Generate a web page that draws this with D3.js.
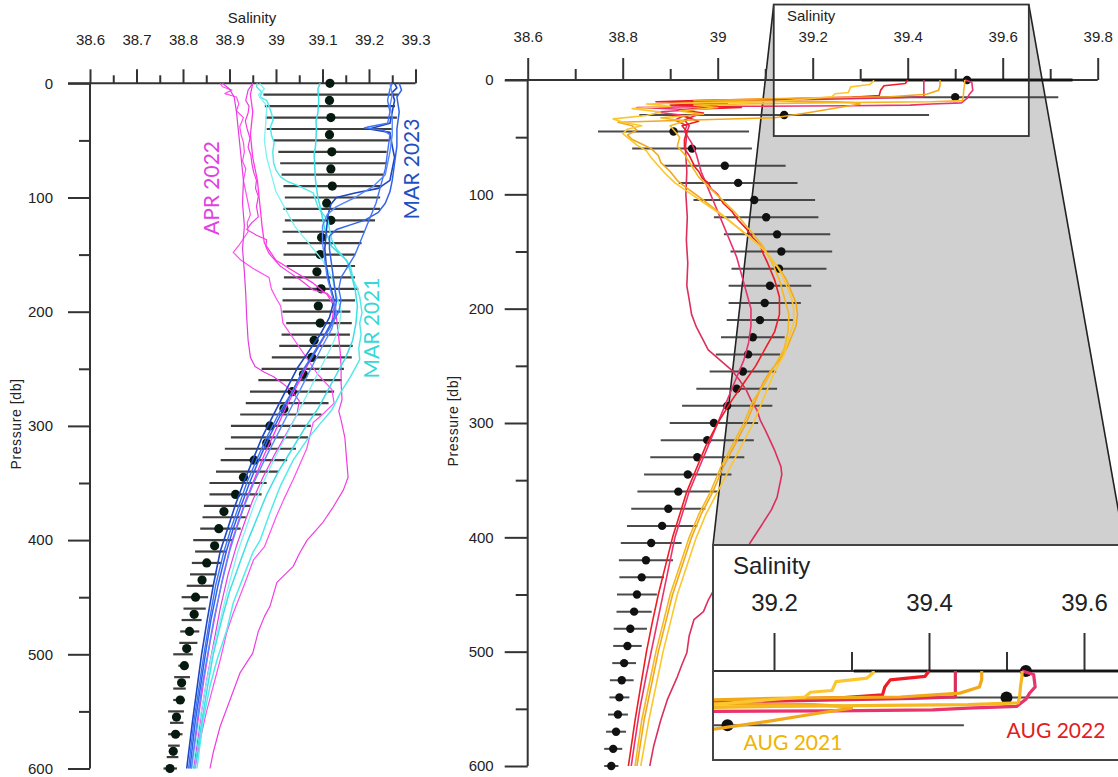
<!DOCTYPE html>
<html><head><meta charset="utf-8">
<script src="https://cdn.jsdelivr.net/npm/d3@7"></script>
<style>body{margin:0;background:#fff}svg{display:block}</style>
</head><body>
<svg id="c" width="1118" height="777"></svg>
<script>
// ---------- LEFT PANEL DATA ----------
const leftXTicks = [38.6, 38.7, 38.8, 38.9, 39, 39.1, 39.2, 39.3];
const leftXMinor = [38.65, 38.75, 38.85, 38.95, 39.05, 39.15, 39.25];
const yTicks = [0, 100, 200, 300, 400, 500, 600];
const yMinor = [50, 150, 250, 350, 450, 550];

const leftDotDepth = [0,15,30,45,60,75,90,105,120,135,150,165,180,195,210,225,240,255,270,285,300,315,330,345,360,375,390,405,420,435,450,465,480,495,510,525,540,555,570,585,600];
const leftDotMean = [39.116,39.115,39.118,39.115,39.12,39.118,39.121,39.109,39.118,39.098,39.095,39.088,39.097,39.091,39.095,39.082,39.077,39.059,39.035,39.017,38.987,38.98,38.953,38.93,38.913,38.888,38.877,38.868,38.851,38.841,38.827,38.824,38.814,38.808,38.803,38.797,38.794,38.786,38.784,38.779,38.772];

const leftBarDepth = [10,20,30,40,50,60,70,80,90,100,110,120,130,140,150,160,170,180,190,200,210,220,230,240,250,260,270,280,290,300,310,320,330,340,350,360,370,380,390,400,410,420,430,440,450,460,470,480,490,500,510,520,530,540,550,560,570,580,590,600];
const leftBarLo = [38.973,38.976,38.978,38.98,38.994,39.005,39.009,39.012,39.016,39.019,39.016,39.019,39.014,39.024,39.016,39.023,39.017,39.014,39.014,39.014,39.022,39.012,39.007,38.991,38.969,38.962,38.944,38.935,38.923,38.903,38.903,38.89,38.881,38.871,38.857,38.857,38.845,38.842,38.837,38.822,38.826,38.819,38.815,38.808,38.797,38.801,38.797,38.794,38.792,38.779,38.79,38.781,38.779,38.779,38.768,38.772,38.768,38.768,38.765,38.758];
const leftBarHi = [39.263,39.256,39.26,39.249,39.245,39.238,39.238,39.231,39.227,39.224,39.224,39.213,39.191,39.184,39.17,39.17,39.17,39.177,39.17,39.16,39.163,39.159,39.165,39.163,39.146,39.141,39.125,39.113,39.098,39.075,39.069,39.043,39.024,39.005,38.98,38.969,38.946,38.935,38.924,38.906,38.894,38.883,38.872,38.865,38.854,38.849,38.84,38.835,38.831,38.821,38.807,38.815,38.806,38.804,38.802,38.801,38.799,38.793,38.79,38.787];

// MAR 2023 (blue)
const mar2023a = [[0,39.255],[4,39.26],[8,39.25],[15,39.255],[25,39.25],[35,39.245],[40,39.2],[43,39.245],[55,39.25],[65,39.255],[75,39.25],[85,39.245],[92,39.22],[96,39.17],[100,39.13],[106,39.118],[115,39.112],[130,39.108],[145,39.105],[160,39.108],[175,39.115],[190,39.125],[205,39.115],[220,39.095],[235,39.07],[250,39.045],[270,39.02],[290,38.995],[310,38.97],[330,38.95],[350,38.93],[370,38.912],[390,38.896],[410,38.88],[440,38.865],[470,38.852],[500,38.84],[530,38.83],[560,38.82],[600,38.808]];
const mar2023b = [[0,39.265],[6,39.27],[12,39.26],[25,39.265],[40,39.26],[55,39.26],[70,39.255],[85,39.25],[95,39.245],[105,39.235],[113,39.22],[120,39.19],[124,39.16],[128,39.13],[134,39.115],[145,39.115],[160,39.12],[175,39.125],[190,39.13],[205,39.125],[220,39.105],[235,39.085],[250,39.06],[270,39.035],[290,39.01],[310,38.985],[330,38.963],[350,38.943],[370,38.925],[390,38.908],[410,38.893],[440,38.875],[470,38.86],[500,38.848],[530,38.837],[560,38.826],[600,38.815]];
const mar2023c = [[0,39.25],[5,39.245],[15,39.24],[25,39.245],[35,39.24],[38,39.2],[39,39.19],[41,39.23],[45,39.245],[60,39.24],[75,39.235],[90,39.225],[105,39.215],[120,39.2],[135,39.185],[150,39.17],[160,39.155],[170,39.14],[180,39.135],[190,39.14],[200,39.135],[215,39.115],[230,39.09],[250,39.06],[270,39.035],[290,39.005],[310,38.98],[330,38.958],[350,38.937],[370,38.92],[390,38.903],[410,38.888],[440,38.87],[470,38.857],[500,38.845],[530,38.834],[560,38.823],[600,38.812]];
const mar2023d = [[0,39.245],[10,39.25],[20,39.245],[30,39.25],[45,39.25],[60,39.245],[70,39.24],[80,39.235],[90,39.21],[100,39.17],[108,39.13],[115,39.11],[125,39.1],[140,39.1],[155,39.105],[170,39.11],[185,39.12],[200,39.13],[215,39.12],[230,39.1],[250,39.075],[270,39.05],[290,39.025],[310,39.0],[330,38.975],[350,38.952],[370,38.932],[390,38.915],[410,38.9],[440,38.882],[470,38.866],[500,38.853],[530,38.84],[560,38.83],[600,38.818]];

// MAR 2021 (cyan)
const mar2021a = [[0,38.96],[3,38.958],[8,38.97],[12,38.965],[15,38.98],[20,38.985],[26,38.99],[32,38.994],[38,38.988],[45,38.99],[52,38.996],[60,38.993],[70,38.995],[76,39.0],[82,39.01],[86,39.025],[90,39.05],[96,39.08],[102,39.085],[108,39.09],[114,39.1],[120,39.112],[128,39.115],[137,39.12],[145,39.13],[152,39.145],[160,39.16],[172,39.166],[180,39.175],[187,39.18],[201,39.185],[210,39.18],[220,39.183],[232,39.178],[242,39.18],[257,39.16],[270,39.14],[286,39.12],[298,39.095],[312,39.067],[330,39.037],[353,39.009],[376,38.987],[400,38.966],[411,38.95],[432,38.93],[455,38.908],[479,38.894],[505,38.873],[528,38.858],[558,38.843],[600,38.83]];
const mar2021b = [[0,39.095],[5,39.09],[15,39.092],[26,39.09],[33,39.086],[40,39.087],[55,39.085],[62,39.082],[70,39.083],[85,39.085],[100,39.09],[108,39.095],[118,39.1],[128,39.105],[143,39.12],[155,39.152],[165,39.16],[180,39.17],[195,39.175],[210,39.172],[225,39.165],[240,39.15],[255,39.13],[270,39.11],[285,39.09],[300,39.065],[320,39.035],[340,39.005],[360,38.98],[380,38.96],[400,38.94],[420,38.922],[445,38.9],[470,38.883],[500,38.865],[530,38.852],[560,38.84],[600,38.825]];
const mar2021c = [[0,38.965],[5,38.975],[10,38.962],[20,38.98],[35,38.978],[50,38.975],[65,38.98],[80,38.99],[95,39.0],[110,39.02],[125,39.04],[140,39.07],[155,39.1],[170,39.12],[185,39.13],[200,39.14],[215,39.135],[230,39.12],[250,39.095],[270,39.07],[290,39.045],[310,39.02],[330,38.995],[350,38.972],[370,38.952],[390,38.935],[410,38.918],[440,38.898],[470,38.88],[500,38.862],[530,38.848],[560,38.835],[600,38.82]];

// APR 2022 (magenta)
const apr2022a = [[0,38.95],[6,38.94],[15,38.935],[20,38.942],[26,38.94],[33,38.934],[40,38.938],[48,38.944],[56,38.94],[63,38.946],[70,38.948],[78,38.952],[85,38.958],[92,38.956],[99,38.962],[108,38.958],[117,38.962],[122,38.948],[128,38.937],[133,38.958],[137,38.98],[143,38.978],[149,38.985],[155,38.998],[160,39.009],[166,39.03],[172,39.052],[181,39.08],[184,39.11],[190,39.123],[205,39.13],[219,39.134],[235,39.138],[248,39.14],[262,39.14],[277,39.142],[287,39.135],[295,39.14],[310,39.148],[330,39.152],[345,39.155],[356,39.145],[371,39.123],[385,39.1],[400,39.067],[412,39.05],[423,39.037],[437,39.002],[458,38.987],[467,38.975],[480,38.962],[499,38.95],[516,38.923],[540,38.901],[563,38.88],[586,38.865],[600,38.858]];
const apr2022b = [[0,38.88],[3,38.885],[6,38.905],[9,38.89],[12,38.915],[18,38.92],[24,38.915],[30,38.93],[38,38.922],[45,38.925],[52,38.93],[60,38.932],[68,38.928],[75,38.935],[85,38.93],[95,38.935],[105,38.94],[115,38.945],[122,38.938],[130,38.94],[142,38.92],[148,38.908],[155,38.925],[162,38.95],[170,38.985],[180,38.99],[188,39.0],[195,39.01],[210,39.015],[225,39.04],[240,39.065],[255,39.09],[268,39.12],[280,39.125],[290,39.1],[297,39.08],[320,39.066],[347,39.037],[365,39.016],[380,39.0],[406,38.975],[417,38.952],[441,38.93],[464,38.908],[481,38.894],[505,38.88],[528,38.865],[551,38.85],[575,38.837],[600,38.826]];
const apr2022c = [[0,38.885],[5,38.9],[12,38.91],[25,38.915],[45,38.92],[65,38.925],[85,38.93],[105,38.928],[125,38.932],[145,38.928],[165,38.932],[185,38.935],[205,38.937],[225,38.94],[240,38.945],[248,38.955],[253,38.975],[257,38.995],[263,39.015],[270,39.035],[278,39.05],[290,39.045],[305,39.025],[325,38.997],[345,38.972],[365,38.95],[385,38.932],[405,38.915],[430,38.897],[460,38.88],[490,38.866],[520,38.852],[550,38.84],[580,38.83],[600,38.823]];
const apr2022d = [[0,38.95],[10,38.945],[25,38.95],[45,38.945],[65,38.95],[85,38.96],[105,38.965],[125,38.97],[140,38.975],[155,39.0],[165,39.04],[175,39.08],[185,39.11],[195,39.125],[210,39.12],[225,39.1],[245,39.07],[265,39.045],[285,39.02],[305,38.998],[325,38.975],[345,38.955],[365,38.935],[385,38.918],[405,38.902],[430,38.887],[460,38.872],[490,38.858],[520,38.846],[550,38.835],[580,38.825],[600,38.818]];

// ---------- RIGHT PANEL DATA ----------
const rightXTicks = [38.6, 38.8, 39, 39.2, 39.4, 39.6, 39.8];
const rightXMinor = [38.7, 38.9, 39.1, 39.3, 39.5, 39.7];
const insetXTicks = [39.2, 39.4, 39.6];
const insetXMinor = [39.3, 39.5];

const rightDotDepth = [0,15,30.6,45,60,75,90,105,120,135,150,165,180,195,210,225,240,255,270,285,300,315,330,345,360,375,390,405,420,435,450,465,480,495,510,525,540,555,570,585,600];
const rightDotMean = [39.525,39.5,39.14,38.907,38.946,39.015,39.043,39.077,39.102,39.125,39.134,39.129,39.11,39.099,39.089,39.074,39.064,39.053,39.04,39.02,38.992,38.978,38.957,38.937,38.917,38.896,38.883,38.86,38.849,38.84,38.83,38.824,38.816,38.81,38.803,38.798,38.793,38.79,38.786,38.78,38.776];
const rightDotSD = [0.222,0.217,0.305,0.159,0.126,0.128,0.125,0.128,0.11,0.112,0.107,0.1,0.087,0.076,0.07,0.067,0.068,0.07,0.085,0.095,0.093,0.098,0.099,0.092,0.086,0.078,0.074,0.064,0.057,0.047,0.042,0.037,0.035,0.03,0.025,0.025,0.021,0.021,0.021,0.019,0.015];

// AUG 2022 (reds)
const aug2022a = [[0,39.4],[3,39.395],[5,39.35],[9,39.343],[13.5,39.34],[15,39.29],[16.5,39.15],[17.5,38.99],[19,38.87],[20.5,39.02],[22,38.9],[24,39.05],[26,38.92],[29,38.97],[32,38.93],[36,38.96],[40,38.925],[45,38.935],[52,38.93],[60,38.93],[66,38.94],[70,38.945],[76,38.952],[80,38.96],[86,38.968],[90,38.98],[95,38.986],[100,39.0],[108,39.012],[115,39.03],[122,39.042],[130,39.06],[138,39.074],[145,39.09],[152,39.096],[160,39.105],[175,39.12],[190,39.13],[205,39.13],[220,39.12],[235,39.1],[250,39.08],[265,39.055],[280,39.03],[300,39.0],[320,38.975],[340,38.955],[360,38.935],[380,38.92],[400,38.905],[425,38.89],[450,38.875],[475,38.862],[500,38.85],[530,38.838],[560,38.826],[600,38.812]];
const aug2022b = [[0,39.434],[8,39.434],[14.6,39.434],[15.5,39.38],[17,39.2],[18.5,38.98],[20,38.9],[23,39.0],[26,38.93],[30,38.96],[35,38.93],[40,38.94],[46,38.935],[60,38.932],[80,38.935],[100,38.933],[120,38.936],[140,38.934],[160,38.937],[180,38.935],[192,38.94],[205,38.945],[216,38.955],[228,38.97],[236,38.98],[245,39.005],[254,39.03],[262,39.045],[271,39.06],[280,39.07],[289,39.083],[298,39.09],[306,39.1],[315,39.11],[324,39.12],[338,39.133],[345,39.135],[353,39.131],[365,39.125],[376,39.113],[391,39.09],[405,39.068],[424,39.04],[440,39.0],[455,38.98],[465,38.97],[472,38.95],[486,38.94],[501,38.935],[511,38.925],[522,38.915],[542,38.894],[560,38.88],[583,38.865],[600,38.857]];
const aug2022c = [[0,39.52],[2,39.535],[9,39.537],[12.4,39.53],[16,39.525],[20,39.513],[21,39.45],[22,39.405],[22.5,39.276],[23,39.05],[24,38.83],[26,38.95],[28,38.87],[31,38.93],[35,38.91],[40,38.935],[45,38.93],[55,38.945],[65,38.955],[80,38.965],[95,38.98],[110,38.995],[125,39.01],[140,39.025],[155,39.04],[170,39.05],[185,39.06],[200,39.07],[215,39.07],[230,39.065],[245,39.055],[260,39.04],[280,39.02],[300,39.0],[320,38.98],[340,38.96],[360,38.94],[380,38.925],[400,38.91],[430,38.895],[460,38.88],[490,38.865],[520,38.85],[550,38.836],[580,38.825],[600,38.818]];
// AUG 2021 (golds)
const aug2021a = [[0,39.468],[5,39.468],[9,39.465],[12.5,39.44],[14.7,39.363],[15.5,39.2],[17,39.05],[18,38.95],[19,39.25],[20,39.29],[21,39.3],[24,39.255],[28.6,39.19],[33,39.12],[35,38.95],[37,38.79],[40,38.82],[44,38.83],[48,38.81],[52,38.82],[56,38.84],[60,38.86],[66,38.875],[72,38.88],[80,38.9],[88,38.915],[96,38.94],[105,38.97],[115,39.0],[125,39.03],[135,39.06],[145,39.09],[155,39.11],[165,39.13],[175,39.145],[185,39.155],[195,39.165],[205,39.168],[215,39.165],[225,39.155],[235,39.145],[245,39.13],[255,39.11],[265,39.095],[280,39.08],[300,39.06],[320,39.035],[340,39.01],[360,38.99],[380,38.965],[400,38.945],[425,38.925],[450,38.905],[475,38.89],[500,38.875],[530,38.86],[560,38.845],[600,38.83]];
const aug2021b = [[0,39.52],[3,39.52],[9,39.518],[14.6,39.517],[18,39.515],[19,39.45],[20,39.2],[21,39.05],[22,38.95],[24,39.0],[27,38.92],[30,38.97],[33,38.88],[36,38.93],[40,38.9],[45,38.91],[50,38.92],[58,38.915],[65,38.93],[75,38.945],[85,38.96],[95,38.985],[105,39.01],[115,39.035],[125,39.055],[135,39.075],[145,39.095],[160,39.115],[175,39.13],[190,39.14],[205,39.15],[220,39.148],[235,39.14],[250,39.12],[265,39.1],[280,39.075],[300,39.055],[320,39.03],[340,39.005],[360,38.985],[380,38.96],[400,38.94],[425,38.92],[450,38.9],[475,38.885],[500,38.87],[530,38.855],[560,38.84],[600,38.826]];
const aug2021c = [[0,39.328],[1,39.328],[4,39.32],[6,39.28],[11,39.275],[12,39.247],[14.7,39.24],[16.4,39.19],[19,39.12],[20,38.95],[21,38.85],[23,38.9],[25,38.82],[28,38.88],[31,38.85],[34,38.78],[37,38.8],[40,38.84],[43,38.81],[47,38.8],[52,38.815],[57,38.83],[62,38.85],[68,38.86],[75,38.875],[82,38.89],[90,38.91],[100,38.945],[110,38.98],[120,39.015],[130,39.045],[140,39.075],[150,39.1],[160,39.12],[170,39.135],[180,39.145],[190,39.155],[200,39.16],[212,39.16],[225,39.15],[240,39.14],[255,39.12],[270,39.105],[285,39.09],[300,39.075],[320,39.05],[340,39.025],[360,39.0],[380,38.975],[400,38.955],[425,38.935],[450,38.915],[475,38.9],[500,38.885],[530,38.87],[560,38.855],[600,38.838]];

// zoomed region (salinity range, depth range) shown in the inset
const zoomSal = [39.118, 39.655];
const zoomDepth = [-66, 49];

// ---------- DRAWING ----------
const svg = d3.select('#c');
const FONT = "'Liberation Sans', Arial, sans-serif";
const LABF = "Lato, 'Open Sans', sans-serif";

const xL = d3.scaleLinear().domain([38.6, 39.3]).range([90, 415.5]);
const yL = d3.scaleLinear().domain([0, 600]).range([83.3, 768.5]);
const xR = d3.scaleLinear().domain([38.6, 39.8]).range([527.7, 1097.7]);
const yR = d3.scaleLinear().domain([0, 600]).range([80, 766]);
const xI = d3.scaleLinear().domain([39.2, 39.6]).range([774, 1084]);
const yI = d3.scaleLinear().domain([0, 50]).range([671, 759.5]);

function styleAxis(g, fs) {
  g.select('.domain').remove();
  g.selectAll('line').attr('stroke', '#333').attr('stroke-width', 2);
  g.selectAll('text').attr('fill', '#222').style('font-family', FONT).style('font-size', fs + 'px');
}

// ===== LEFT PANEL =====
const L = svg.append('g');
L.append('line').attr('x1', 68).attr('x2', xL(39.3)).attr('y1', yL(0)).attr('y2', yL(0)).attr('stroke', '#333').attr('stroke-width', 2);
L.append('line').attr('x1', xL(38.6)).attr('x2', xL(38.6)).attr('y1', yL(0)).attr('y2', yL(600)).attr('stroke', '#333').attr('stroke-width', 2);
L.append('g').attr('transform', `translate(0,${yL(0)})`)
  .call(d3.axisTop(xL).tickValues(leftXTicks).tickSize(14).tickPadding(24).tickFormat(d3.format('~g')))
  .call(g => styleAxis(g, 15));
L.append('g').attr('transform', `translate(0,${yL(0)})`)
  .call(d3.axisTop(xL).tickValues(leftXMinor).tickSize(8).tickFormat(''))
  .call(g => styleAxis(g, 15));
L.append('g').attr('transform', `translate(${xL(38.6)},0)`)
  .call(d3.axisLeft(yL).tickValues(yTicks).tickSize(22).tickPadding(15))
  .call(g => styleAxis(g, 15));
L.append('g').attr('transform', `translate(${xL(38.6)},0)`)
  .call(d3.axisLeft(yL).tickValues(yMinor).tickSize(11).tickFormat(''))
  .call(g => styleAxis(g, 15));
L.append('text').attr('x', 252).attr('y', 23).attr('text-anchor', 'middle').style('font-family', FONT).style('font-size', '15px').attr('fill', '#222').text('Salinity');
L.append('text').attr('transform', 'translate(21,424) rotate(-90)').attr('text-anchor', 'middle').style('font-family', FONT).style('font-size', '14px').style('letter-spacing', '0.6px').attr('fill', '#222').text('Pressure [db]');

L.append('g').selectAll('line').data(leftBarDepth).join('line')
  .attr('x1', (d, i) => xL(leftBarLo[i])).attr('x2', (d, i) => xL(leftBarHi[i]))
  .attr('y1', d => yL(d)).attr('y2', d => yL(d))
  .attr('stroke', '#2a2a2a').attr('stroke-width', 2.2).attr('opacity', 0.9);
L.append('g').selectAll('circle').data(leftDotDepth).join('circle')
  .attr('cx', (d, i) => xL(leftDotMean[i])).attr('cy', d => yL(d)).attr('r', 4.6)
  .attr('fill', '#061a10');

const lineL = d3.line().x(p => xL(p[1])).y(p => yL(p[0]));
const leftSeries = [
  [apr2022a, '#f03ce2', 1.2], [apr2022b, '#ff4ff0', 1.2], [apr2022c, '#e53be0', 1.2], [apr2022d, '#ff38e6', 1.3],
  [mar2021a, '#55eaea', 1.5], [mar2021b, '#3fdfe6', 1.5], [mar2021c, '#7ff2f2', 1.3],
  [mar2023a, '#1d47c4', 1.6], [mar2023b, '#2f62e8', 1.5], [mar2023c, '#3f73f7', 1.4], [mar2023d, '#5888ff', 1.4]
];
L.append('g').selectAll('path').data(leftSeries).join('path')
  .attr('d', s => lineL(s[0])).attr('fill', 'none').attr('stroke', s => s[1]).attr('stroke-width', s => s[2])
  .attr('stroke-linejoin', 'round');

L.append('text').attr('transform', 'translate(219,188) rotate(-90)').attr('text-anchor', 'middle')
  .style('font-family', LABF).style('font-size', '21px').attr('fill', '#e23ee0').text('APR 2022');
L.append('text').attr('transform', 'translate(419,169) rotate(-90)').attr('text-anchor', 'middle')
  .style('font-family', LABF).style('font-size', '21px').attr('fill', '#1f4fbf').text('MAR 2023');
L.append('text').attr('transform', 'translate(379,328) rotate(-90)').attr('text-anchor', 'middle')
  .style('font-family', LABF).style('font-size', '21px').attr('fill', '#35d8d8').text('MAR 2021');

// ===== RIGHT PANEL =====
const R = svg.append('g');
const zx0 = xR(zoomSal[0]), zx1 = xR(zoomSal[1]), zy0 = yR(zoomDepth[0]), zy1 = yR(zoomDepth[1]);
const box = { x: 713, y: 545, w: 420, h: 215 };
const leftEdgeX = box.x, rightEdgeX = 1124.5;
R.append('path').attr('d', `M${zx0},${zy0} L${zx1},${zy0} L${rightEdgeX},${box.y} L${leftEdgeX},${box.y} Z`).attr('fill', '#d0d0d0');
R.append('line').attr('x1', zx0).attr('y1', zy0).attr('x2', leftEdgeX).attr('y2', box.y).attr('stroke', '#222').attr('stroke-width', 1.6);
R.append('line').attr('x1', zx1).attr('y1', zy0).attr('x2', rightEdgeX).attr('y2', box.y).attr('stroke', '#222').attr('stroke-width', 1.6);
R.append('rect').attr('x', zx0).attr('y', zy0).attr('width', zx1 - zx0).attr('height', zy1 - zy0).attr('fill', '#fff');

R.append('line').attr('x1', 505).attr('x2', xR(39.8)).attr('y1', yR(0)).attr('y2', yR(0)).attr('stroke', '#333').attr('stroke-width', 2);
R.append('line').attr('x1', xR(38.6)).attr('x2', xR(38.6)).attr('y1', yR(0)).attr('y2', yR(600)).attr('stroke', '#333').attr('stroke-width', 2);
R.append('g').attr('transform', `translate(0,${yR(0)})`)
  .call(d3.axisTop(xR).tickValues(rightXTicks).tickSize(22).tickPadding(16).tickFormat(d3.format('~g')))
  .call(g => styleAxis(g, 15));
R.append('g').attr('transform', `translate(0,${yR(0)})`)
  .call(d3.axisTop(xR).tickValues(rightXMinor).tickSize(11).tickFormat(''))
  .call(g => styleAxis(g, 15));
R.append('g').attr('transform', `translate(${xR(38.6)},0)`)
  .call(d3.axisLeft(yR).tickValues(yTicks).tickSize(23).tickPadding(11))
  .call(g => styleAxis(g, 15));
R.append('g').attr('transform', `translate(${xR(38.6)},0)`)
  .call(d3.axisLeft(yR).tickValues(yMinor).tickSize(12).tickFormat(''))
  .call(g => styleAxis(g, 15));
R.append('text').attr('x', 787).attr('y', 21).style('font-family', FONT).style('font-size', '15px').attr('fill', '#222').text('Salinity');
R.append('text').attr('transform', 'translate(458,421) rotate(-90)').attr('text-anchor', 'middle').style('font-family', FONT).style('font-size', '14px').style('letter-spacing', '0.6px').attr('fill', '#222').text('Pressure [db]');

function drawProfile(g, xs, ys, bw, r, lw) {
  g.append('g').selectAll('line').data(rightDotDepth).join('line')
    .attr('x1', (d, i) => xs(rightDotMean[i] - rightDotSD[i])).attr('x2', (d, i) => xs(rightDotMean[i] + rightDotSD[i]))
    .attr('y1', d => ys(d)).attr('y2', d => ys(d))
    .attr('stroke', (d, i) => i === 0 ? '#111' : '#333').attr('stroke-width', (d, i) => i === 0 ? bw + 0.8 : bw).attr('opacity', 0.88);
  g.append('g').selectAll('circle').data(rightDotDepth).join('circle')
    .attr('cx', (d, i) => xs(rightDotMean[i])).attr('cy', d => ys(d)).attr('r', r).attr('fill', '#111');
  const ln = d3.line().x(p => xs(p[1])).y(p => ys(p[0]));
  const series = [
    [aug2022b, '#dc2f5c'], [aug2022c, '#e8336c'], [aug2022a, '#ee1c24'],
    [aug2021a, '#f3a81a'], [aug2021b, '#f5b820'], [aug2021c, '#fcc62e']
  ];
  g.append('g').selectAll('path').data(series).join('path')
    .attr('d', s => ln(s[0])).attr('fill', 'none').attr('stroke', s => s[1]).attr('stroke-width', lw)
    .attr('stroke-linejoin', 'round');
}
drawProfile(R.append('g'), xR, yR, 2, 4.2, 1.6);

R.append('rect').attr('x', zx0).attr('y', zy0).attr('width', zx1 - zx0).attr('height', zy1 - zy0)
  .attr('fill', 'none').attr('stroke', '#333').attr('stroke-width', 1.8);

// ===== INSET =====
const I = svg.append('g');
I.append('rect').attr('x', box.x).attr('y', box.y).attr('width', box.w).attr('height', box.h).attr('fill', '#fff');
svg.append('clipPath').attr('id', 'insetClip').append('rect').attr('x', box.x + 1).attr('y', box.y + 1).attr('width', box.w).attr('height', box.h - 2);
const IC = I.append('g').attr('clip-path', 'url(#insetClip)');
IC.append('line').attr('x1', box.x).attr('x2', 1130).attr('y1', yI(0)).attr('y2', yI(0)).attr('stroke', '#333').attr('stroke-width', 2);
IC.append('g').attr('transform', `translate(0,${yI(0)})`)
  .call(d3.axisTop(xI).tickValues(insetXTicks).tickSize(38).tickPadding(22).tickFormat(d3.format('~g')))
  .call(g => styleAxis(g, 24));
IC.append('g').attr('transform', `translate(0,${yI(0)})`)
  .call(d3.axisTop(xI).tickValues(insetXMinor).tickSize(19).tickFormat(''))
  .call(g => styleAxis(g, 24));
IC.append('text').attr('x', 733).attr('y', 574).style('font-family', FONT).style('font-size', '24px').attr('fill', '#222').text('Salinity');
drawProfile(IC, xI, yI, 2, 6, 3.2);
IC.append('text').attr('x', 793).attr('y', 750).attr('text-anchor', 'middle').style('font-family', LABF).style('font-size', '21px').attr('fill', '#f0b400').text('AUG 2021');
IC.append('text').attr('x', 1056).attr('y', 738).attr('text-anchor', 'middle').style('font-family', LABF).style('font-size', '21px').attr('fill', '#e0201e').text('AUG 2022');
I.append('rect').attr('x', box.x).attr('y', box.y).attr('width', box.w).attr('height', box.h)
  .attr('fill', 'none').attr('stroke', '#444').attr('stroke-width', 2);
</script>
</body></html>
